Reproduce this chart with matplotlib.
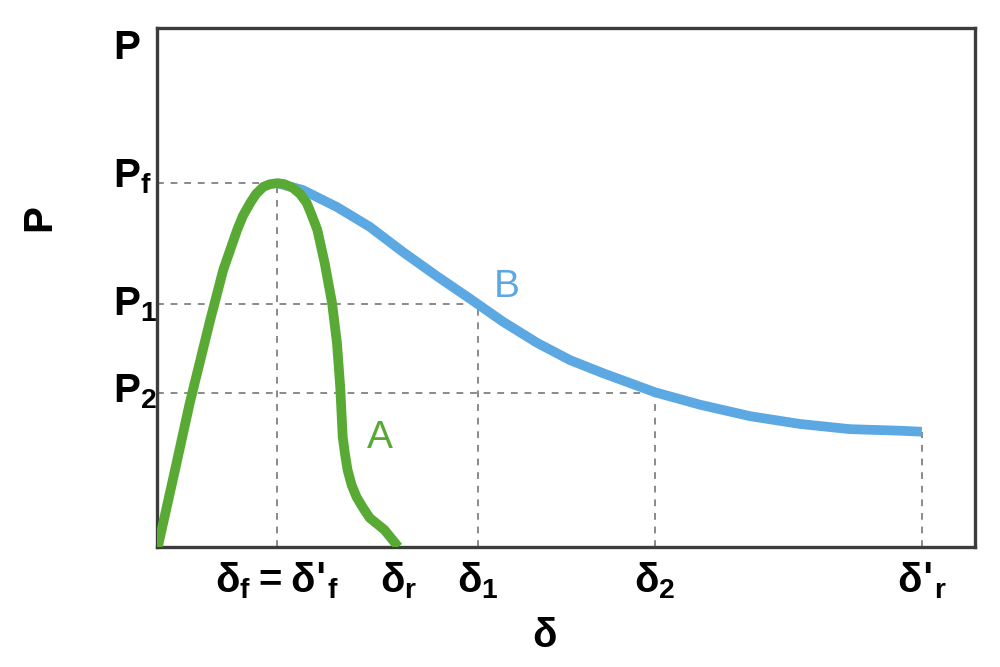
import matplotlib
matplotlib.use("Agg")
import matplotlib.pyplot as plt
from matplotlib.transforms import ScaledTranslation

# Curve A (green), axis units 0..10
a_x = [0.01, 0.22, 0.40, 0.65, 0.81, 0.98, 1.05, 1.14, 1.21, 1.30, 1.38, 1.47, 1.56,
       1.66, 1.75, 1.83, 1.89, 1.96, 2.05, 2.14, 2.20, 2.24, 2.27, 2.30, 2.33, 2.38,
       2.44, 2.52, 2.60, 2.78, 2.95]
a_y = [0.0, 1.48, 2.77, 4.37, 5.34, 6.11, 6.38, 6.63, 6.80, 6.94, 6.99, 7.01, 6.99,
       6.92, 6.80, 6.63, 6.40, 6.11, 5.47, 4.70, 3.93, 3.08, 2.12, 1.77, 1.48, 1.19,
       0.96, 0.75, 0.56, 0.33, 0.0]

# Curve B (blue)
b_x = [1.47, 1.78, 2.20, 2.60, 3.01, 3.42, 3.83, 4.23, 4.65, 5.05, 5.45, 6.09,
       6.64, 7.25, 7.86, 8.47, 9.08, 9.35]
b_y = [7.01, 6.88, 6.55, 6.17, 5.68, 5.22, 4.78, 4.34, 3.93, 3.60, 3.35, 2.98,
       2.74, 2.52, 2.37, 2.27, 2.24, 2.22]

# Ticks
y_ticks = [9.67, 7.01, 4.68, 2.97]
y_labels = [r"$\mathregular{P}$", r"$\mathregular{P_f}$", r"$\mathregular{P_1}$", r"$\mathregular{P_2}$"]
x_ticks = [1.47, 2.96, 3.92, 6.09, 9.35]
x_labels = [r"$\mathregular{δ_f = δ\text{'}_f}$", r"$\mathregular{δ_r}$", r"$\mathregular{δ_1}$",
            r"$\mathregular{δ_2}$", r"$\mathregular{δ\text{'}_r}$"]

# Reference guides
guide_x = [1.47, 3.92, 6.09, 9.35]
guide_ytop = [7.01, 4.68, 2.97, 2.22]
hguide_y = [7.01, 4.68, 2.97]
hguide_xend = [1.47, 3.92, 6.09]

plt.rcParams["font.family"] = ["Liberation Sans", "DejaVu Sans"]
plt.rcParams["font.weight"] = "bold"

fig = plt.figure(figsize=(10, 6.67), dpi=100)
ax = fig.add_axes([0.157, 0.18, 0.818, 0.778])
ax.set_xlim(0, 10)
ax.set_ylim(0, 10)

gray = "#8a8a8a"
for gx, gy in zip(guide_x, guide_ytop):
    ax.plot([gx, gx], [0, gy], color=gray, lw=1.4, ls=(0, (3.5, 3.5)), zorder=1)
for hy, hx in zip(hguide_y, hguide_xend):
    ax.plot([0, hx], [hy, hy], color=gray, lw=1.4, ls=(0, (3.5, 3.5)), zorder=1)

green = "#58aa34"
blue = "#5ca8e3"
ax.plot(b_x, b_y, color=blue, lw=7, solid_capstyle="butt", solid_joinstyle="round", zorder=2)
ax.plot(a_x, a_y, color=green, lw=7, solid_capstyle="butt", solid_joinstyle="round", zorder=3)

ax.text(2.73, 2.10, "A", color=green, fontsize=28, fontweight="normal", ha="center", va="center")
ax.text(4.28, 5.0, "B", color=blue, fontsize=28, fontweight="normal", ha="center", va="center")

ax.set_yticks(y_ticks)
ax.set_yticklabels(y_labels, fontsize=29)
ax.set_xticks(x_ticks)
ax.set_xticklabels(x_labels, fontsize=29)
ax.tick_params(length=0)
ax.tick_params(axis="y", pad=32)
ax.tick_params(axis="x", pad=10)
y_shift_px = [1, 11, 4, 5]
for lab, dy in zip(ax.get_yticklabels(), y_shift_px):
    lab.set_horizontalalignment("left")
    lab.set_transform(lab.get_transform() + ScaledTranslation(0, dy / 100, fig.dpi_scale_trans))

ax.set_ylabel("P", fontsize=29, fontweight="bold")
ax.yaxis.set_label_coords(-0.121, 0.634)
ax.set_xlabel("δ", fontsize=29, fontweight="bold")
ax.xaxis.set_label_coords((545 - 157) / 818, -0.135)

for s in ax.spines.values():
    s.set_linewidth(2.4)
    s.set_color("#3c3c3c")

fig.savefig("out.png", dpi=100)
